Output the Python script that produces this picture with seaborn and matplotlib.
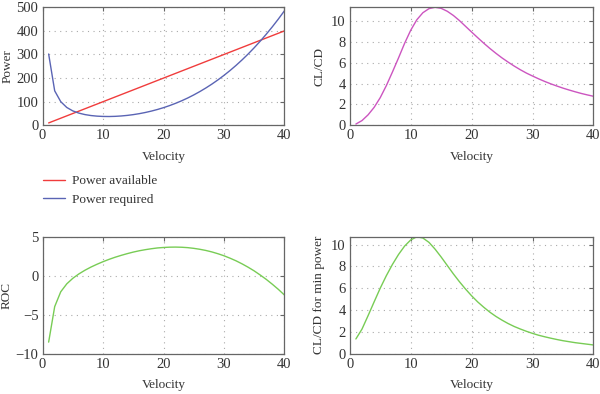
import numpy as np
import pandas as pd
import matplotlib
matplotlib.use('Agg')
import matplotlib.pyplot as plt
import seaborn as sns

velocity = list(range(1, 41))

power_available = [10, 20, 30, 40, 50, 60, 70, 80, 90, 100,
                   110, 120, 130, 140, 150, 160, 170, 180, 190, 200,
                   210, 220, 230, 240, 250, 260, 270, 280, 290, 300,
                   310, 320, 330, 340, 350, 360, 370, 380, 390, 400]

power_required = [302.0, 146.0, 100.2, 75.5, 60.9, 51.6, 45.4, 41.3, 38.8, 37.5,
                  37.2, 37.9, 39.5, 41.9, 45.2, 49.3, 54.3, 60.2, 67.0, 74.7,
                  83.4, 93.1, 103.8, 115.6, 128.6, 142.7, 158.0, 174.5, 192.3, 211.4,
                  231.9, 253.8, 277.2, 302.0, 328.4, 356.4, 386.0, 417.2, 450.2, 484.9]

cl_cd = [0.12, 0.45, 1.0, 1.72, 2.65, 3.8, 5.1, 6.45, 7.85, 9.1,
         10.1, 10.78, 11.17, 11.3, 11.2, 10.92, 10.52, 10.03, 9.48, 8.93,
         8.39, 7.86, 7.36, 6.89, 6.45, 6.05, 5.67, 5.32, 5.0, 4.72,
         4.45, 4.2, 3.97, 3.76, 3.56, 3.38, 3.21, 3.05, 2.91, 2.78]

roc = [-8.5, -3.95, -2.05, -1.03, -0.32, 0.24, 0.71, 1.12, 1.48, 1.81,
       2.11, 2.38, 2.62, 2.84, 3.04, 3.21, 3.35, 3.47, 3.57, 3.63,
       3.67, 3.68, 3.66, 3.61, 3.52, 3.40, 3.25, 3.06, 2.83, 2.57,
       2.26, 1.92, 1.53, 1.10, 0.63, 0.10, -0.46, -1.08, -1.74, -2.46]

cl_cd_min_power = [1.36, 2.26, 3.49, 4.76, 6.01, 7.15, 8.18, 9.09, 9.86, 10.42,
                   10.71, 10.60, 10.20, 9.58, 8.86, 8.09, 7.32, 6.6, 5.93, 5.31,
                   4.75, 4.26, 3.81, 3.42, 3.08, 2.77, 2.5, 2.27, 2.06, 1.87,
                   1.7, 1.56, 1.43, 1.31, 1.2, 1.11, 1.02, 0.95, 0.88, 0.81]

sns.set_style('white')
plt.rcParams['font.family'] = ['Liberation Serif', 'DejaVu Serif']
plt.rcParams['font.size'] = 9.5

red = '#f03c3c'
blue = '#5a64b4'
magenta = '#cc55c0'
green = '#78cc55'

fig = plt.figure(figsize=(6, 3.94), dpi=100)
ax1 = fig.add_axes([0.071, 0.682, 0.403, 0.2995])
ax2 = fig.add_axes([0.583, 0.682, 0.406, 0.2995])
ax3 = fig.add_axes([0.071, 0.102, 0.403, 0.297])
ax4 = fig.add_axes([0.583, 0.102, 0.406, 0.297])

df = pd.DataFrame({'Velocity': velocity, 'Pa': power_available, 'Pr': power_required,
                   'CLCD': cl_cd, 'ROC': roc, 'CLCDmin': cl_cd_min_power})

sns.lineplot(data=df, x='Velocity', y='Pa', color=red, lw=1, ax=ax1, label='Power available')
sns.lineplot(data=df, x='Velocity', y='Pr', color=blue, lw=1, ax=ax1, label='Power required')
sns.lineplot(data=df, x='Velocity', y='CLCD', color=magenta, lw=1, ax=ax2)
sns.lineplot(data=df, x='Velocity', y='ROC', color=green, lw=1, ax=ax3)
sns.lineplot(data=df, x='Velocity', y='CLCDmin', color=green, lw=1, ax=ax4)

ax1.set_ylim(0, 500)
ax1.set_yticks([0, 100, 200, 300, 400, 500])
ax1.set_ylabel('Power', labelpad=2)
ax2.set_ylim(0, max(cl_cd))
ax2.set_yticks([0, 2, 4, 6, 8, 10])
ax2.set_ylabel('CL/CD', labelpad=4)
ax3.set_ylim(-10, 5)
ax3.set_yticks([-10, -5, 0, 5])
ax3.set_yticklabels(['\u221210', '\u22125', '0', '5'])
ax3.set_ylabel('ROC', labelpad=2)
ax4.set_ylim(0, max(cl_cd_min_power))
ax4.set_yticks([0, 2, 4, 6, 8, 10])
ax4.set_ylabel('CL/CD for min power', labelpad=4)

for ax in [ax1, ax2, ax3, ax4]:
    ax.set_xlim(0, 40)
    ax.set_xticks([0, 10, 20, 30, 40])
    ax.set_xlabel('Velocity', labelpad=6)
    ax.grid(True, linestyle=(0, (1, 4)), color='#aaaaaa', lw=0.8)
    ax.tick_params(direction='in', length=3, top=True, right=True, color='#666666',
                   labelsize=10.5, pad=3, labelcolor='#333333')
    for s in ax.spines.values():
        s.set_color('#666666')
        s.set_linewidth(0.9)
    ax.yaxis.label.set_color('#333333')
    ax.xaxis.label.set_color('#333333')

leg = ax1.legend(loc='upper left', bbox_to_anchor=(43 / 600, 1 - 175 / 394),
                 bbox_transform=fig.transFigure, borderpad=0, borderaxespad=0,
                 frameon=False, fontsize=9.5, handlelength=1.7, handletextpad=0.5,
                 labelspacing=0.5, labelcolor='#333333')

fig.savefig('out.png', dpi=100)
